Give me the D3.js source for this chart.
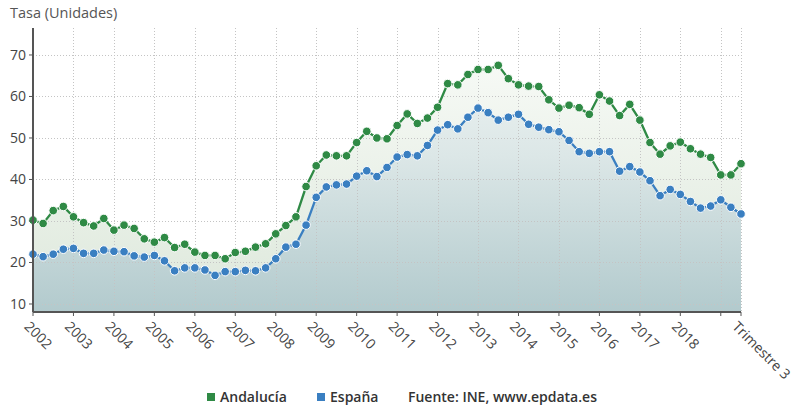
<!DOCTYPE html>
<html>
<head>
<meta charset="utf-8">
<script src="https://cdnjs.cloudflare.com/ajax/libs/d3/7.8.5/d3.min.js"></script>
<style>
  body { margin: 0; background: #fff; }
  svg { font-family: "Open Sans", "Noto Sans", sans-serif; }
</style>
</head>
<body>
<div id="chart"></div>
<script>
// data: quarterly rate, 2002 Q1 .. 2019 Q3
var years = ["2002", "2003", "2004", "2005", "2006", "2007", "2008", "2009", "2010",
  "2011", "2012", "2013", "2014", "2015", "2016", "2017", "2018", "2019"];
var quarters = ["Trimestre 1", "Trimestre 2", "Trimestre 3", "Trimestre 4"];

var andalucia = [30.2, 29.4, 32.5, 33.5, 31.0, 29.6, 28.8, 30.6, 27.8, 29.0, 28.2, 25.7,
  24.9, 26.0, 23.6, 24.4, 22.5, 21.7, 21.7, 20.9, 22.4, 22.7, 23.7, 24.5,
  26.9, 28.9, 31.0, 38.3, 43.3, 45.9, 45.7, 45.7, 48.9, 51.6, 50.0, 49.8,
  53.0, 55.8, 53.5, 54.8, 57.4, 63.1, 62.8, 65.3, 66.5, 66.5, 67.5, 64.3,
  62.8, 62.5, 62.4, 59.2, 57.2, 57.9, 57.3, 55.7, 60.4, 58.9, 55.4, 58.1,
  54.3, 48.9, 46.1, 48.1, 49.0, 47.4, 46.1, 45.3, 41.1, 41.1, 43.8];
var espana = [22.0, 21.4, 22.0, 23.2, 23.4, 22.2, 22.2, 23.0, 22.7, 22.6, 21.6, 21.3,
  21.7, 20.4, 18.0, 18.7, 18.7, 18.2, 16.9, 17.8, 17.8, 18.1, 18.0, 18.7,
  20.9, 23.7, 24.4, 29.0, 35.7, 38.2, 38.7, 38.9, 40.8, 42.1, 40.7, 42.9,
  45.4, 46.0, 45.7, 48.2, 51.9, 53.2, 52.2, 55.0, 57.2, 56.1, 54.3, 55.0,
  55.7, 53.3, 52.6, 52.0, 51.5, 49.4, 46.7, 46.3, 46.7, 46.7, 42.0, 43.1,
  41.8, 39.7, 36.1, 37.6, 36.4, 34.7, 33.1, 33.6, 35.1, 33.3, 31.7];
var yTicks = [10, 20, 30, 40, 50, 60, 70];

// categories built from years x quarters, cut to the data length
var categories = [];
years.forEach(function(y) {
  quarters.forEach(function(q) { categories.push(y + " " + q); });
});
categories = categories.slice(0, andalucia.length);

var width = 794, height = 408;
var plot = {left: 33, right: 741, top: 28, bottom: 312};

var svg = d3.select("#chart").append("svg")
  .attr("width", width).attr("height", height);

var x = d3.scalePoint().domain(categories).range([plot.left, plot.right]);
var y = d3.scaleLinear().domain([8.07, 76.5]).range([plot.bottom, plot.top]);

// gradients for the areas
var defs = svg.append("defs");
var gGreen = defs.append("linearGradient").attr("id", "gradGreen")
  .attr("gradientUnits", "userSpaceOnUse")
  .attr("x1", 0).attr("y1", plot.top).attr("x2", 0).attr("y2", plot.bottom);
gGreen.append("stop").attr("offset", "0%").attr("stop-color", "#fafcf9");
gGreen.append("stop").attr("offset", "100%").attr("stop-color", "#dde8db");

var gBlue = defs.append("linearGradient").attr("id", "gradBlue")
  .attr("gradientUnits", "userSpaceOnUse")
  .attr("x1", 0).attr("y1", plot.top).attr("x2", 0).attr("y2", plot.bottom);
gBlue.append("stop").attr("offset", "0%").attr("stop-color", "#f3f7f6");
gBlue.append("stop").attr("offset", "45%").attr("stop-color", "#dce7e7");
gBlue.append("stop").attr("offset", "100%").attr("stop-color", "#b2cacd");

function area(vals, fill) {
  svg.append("path")
    .datum(vals)
    .attr("fill", fill)
    .attr("d", d3.area()
      .x(function(d, i) { return x(categories[i]); })
      .y0(plot.bottom)
      .y1(function(d) { return y(d); }));
}
area(andalucia, "url(#gradGreen)");
area(espana, "url(#gradBlue)");

// grid lines
var gridG = svg.append("g");
gridG.selectAll("line.h").data(yTicks).enter().append("line")
  .attr("x1", plot.left).attr("x2", plot.right)
  .attr("y1", function(d) { return Math.round(y(d)) + 0.5; })
  .attr("y2", function(d) { return Math.round(y(d)) + 0.5; })
  .attr("stroke", "#c4c4c4").attr("stroke-dasharray", "1,2");

var tickCats = categories.filter(function(c, i) { return i % 4 == 0; });
tickCats.push(categories[categories.length - 1]);
gridG.selectAll("line.v").data(tickCats.slice(1)).enter().append("line")
  .attr("x1", function(d) { return Math.round(x(d)) + 0.5; })
  .attr("x2", function(d) { return Math.round(x(d)) + 0.5; })
  .attr("y1", plot.top).attr("y2", plot.bottom)
  .attr("stroke", "#c4c4c4").attr("stroke-dasharray", "1,2");

// lines and markers
function series(vals, color) {
  svg.append("path")
    .datum(vals)
    .attr("fill", "none")
    .attr("stroke", color)
    .attr("stroke-width", 2.3)
    .attr("d", d3.line()
      .x(function(d, i) { return x(categories[i]); })
      .y(function(d) { return y(d); }));
  svg.append("g").selectAll("circle").data(vals).enter().append("circle")
    .attr("cx", function(d, i) { return x(categories[i]); })
    .attr("cy", function(d) { return y(d); })
    .attr("r", 4.3)
    .attr("fill", color)
    .attr("stroke", "#fff")
    .attr("stroke-width", 1);
}
series(andalucia, "#2f8a45");
series(espana, "#3a7fc1");

// y axis
var yAxis = svg.append("g");
yAxis.append("line")
  .attr("x1", plot.left).attr("x2", plot.left)
  .attr("y1", plot.top).attr("y2", plot.bottom)
  .attr("stroke", "#555").attr("stroke-width", 2);
yAxis.selectAll("line.t").data(yTicks).enter().append("line")
  .attr("x1", plot.left - 4).attr("x2", plot.left)
  .attr("y1", function(d) { return y(d); })
  .attr("y2", function(d) { return y(d); })
  .attr("stroke", "#555");
yAxis.selectAll("text").data(yTicks).enter().append("text")
  .attr("x", plot.left - 7)
  .attr("y", function(d) { return y(d); })
  .attr("dy", "0.35em")
  .attr("text-anchor", "end")
  .attr("font-size", "14px")
  .attr("fill", "#444")
  .text(function(d) { return d; });

// x axis
var xAxis = svg.append("g");
xAxis.append("line")
  .attr("x1", plot.left).attr("x2", plot.right)
  .attr("y1", plot.bottom).attr("y2", plot.bottom)
  .attr("stroke", "#555").attr("stroke-width", 2);
xAxis.selectAll("line.t").data(tickCats).enter().append("line")
  .attr("x1", function(d) { return x(d); })
  .attr("x2", function(d) { return x(d); })
  .attr("y1", plot.bottom).attr("y2", plot.bottom + 4)
  .attr("stroke", "#555");

// labels: year at each first quarter, quarter name at the end (2019 hidden by overlap)
var lastCat = categories[categories.length - 1];
var labelCats = tickCats.filter(function(c) { return c.indexOf("2019") != 0 || c == lastCat; });
xAxis.selectAll("text").data(labelCats).enter().append("text")
  .attr("transform", function(d) { return "translate(" + (x(d) - 2) + "," + (plot.bottom + 8) + ") rotate(45)"; })
  .attr("dy", "0.75em")
  .attr("font-size", "14px")
  .attr("fill", "#444")
  .text(function(d) { return d == lastCat ? d.split(" ").slice(1).join(" ") : d.split(" ")[0]; });

// title
svg.append("text")
  .attr("x", 10).attr("y", 18)
  .attr("font-size", "14.5px")
  .attr("fill", "#555")
  .text("Tasa (Unidades)");

// legend
var legend = [
  {name: "Andalucía", color: "#2f8a45", x: 207},
  {name: "España", color: "#3a7fc1", x: 317}
];
var lg = svg.append("g");
legend.forEach(function(l) {
  lg.append("rect").attr("x", l.x).attr("y", 393).attr("width", 8).attr("height", 8)
    .attr("fill", l.color);
  lg.append("text").attr("x", l.x + 13).attr("y", 402)
    .attr("font-size", "14px").attr("font-weight", 600).attr("fill", "#333")
    .text(l.name);
});
lg.append("text").attr("x", 408).attr("y", 402)
  .attr("font-size", "14px").attr("font-weight", 600).attr("fill", "#333")
  .text("Fuente: INE, www.epdata.es");
</script>
</body>
</html>
